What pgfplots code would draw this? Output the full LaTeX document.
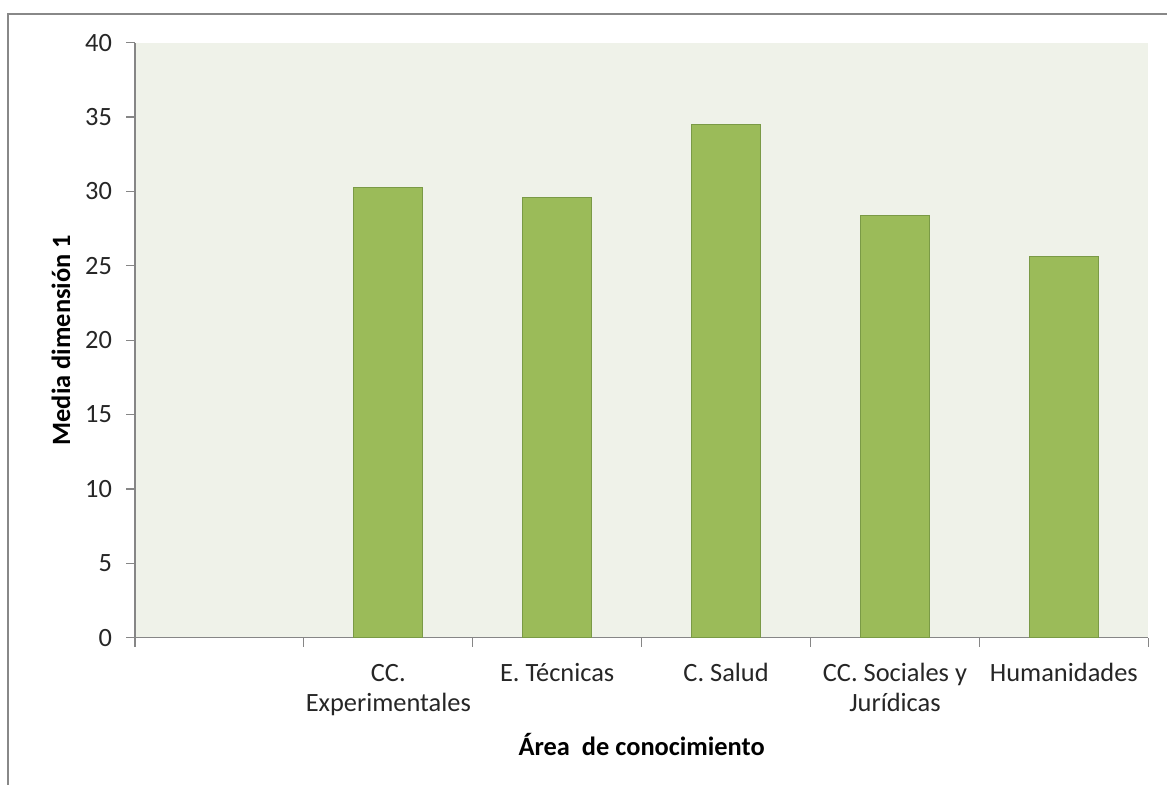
\documentclass[border=0pt]{standalone}
\usepackage{pgfplots}
\pgfplotsset{compat=1.18}
\usepackage{fontspec}
\setmainfont{Carlito}
\definecolor{barfill}{HTML}{9BBB59}
\definecolor{baredge}{HTML}{7A9A46}
\definecolor{plotbg}{HTML}{EFF2E9}
\definecolor{axisgray}{HTML}{868686}
\definecolor{framegray}{HTML}{888888}
\newcommand{\st}{\rule{0pt}{10pt}}
\begin{document}
\begin{tikzpicture}
\useasboundingbox (0pt,0pt) rectangle (583.5pt,392.5pt);
\begin{scope}
\clip (0pt,0pt) rectangle (583.5pt,392.5pt);
\draw[framegray, line width=1pt] (4pt,-10pt) -- (4pt,385.6pt) -- (590pt,385.6pt);
\end{scope}
\begin{axis}[
  at={(67.5pt,73.65pt)}, anchor=south west,
  scale only axis, width=506.65pt, height=297.5pt,
  xmin=0.5, xmax=6.5, ymin=0, ymax=40,
  ytick={0,5,...,40},
  axis x line*=bottom, axis y line*=left,
  axis line style={axisgray, line width=0.6pt, -},
  axis background/.style={fill=plotbg},
  xtick={1,...,6},
  xticklabels={{}, {\st CC.\\Experimentales}, {\st E. Técnicas}, {\st C. Salud}, {\st CC. Sociales y\\Jurídicas}, {\st Humanidades}},
  major x tick style={draw=none},
  minor xtick={0.5,1.5,...,6.5},
  tick align=outside,
  major tick length=4.5pt, minor tick length=4.5pt,
  tick style={axisgray, line width=0.6pt},
  minor tick style={axisgray, line width=0.6pt},
  /pgf/number format/assume math mode=true,
  ticklabel style={font=\fontsize{13.2}{15}\selectfont, text=black!85},
  yticklabel style={xshift=-3.5pt},
  xticklabel style={align=center, anchor=north, yshift=-4pt},
  ybar, bar width=0.41,
  xlabel={Área\ \ de conocimiento},
  ylabel={Media dimensión 1},
  label style={font=\fontsize{13.2}{15}\selectfont\bfseries},
  xlabel style={at={(axis description cs:0.5,-0.180)}, anchor=center},
  ylabel style={at={(axis description cs:-0.073,0.5)}, anchor=center, rotate=0},
]
\addplot[fill=barfill, draw=baredge, line width=0.5pt] coordinates {
  (2,30.25) (3,29.56) (4,34.49) (5,28.40) (6,25.60)
};
\end{axis}
\end{tikzpicture}
\end{document}
